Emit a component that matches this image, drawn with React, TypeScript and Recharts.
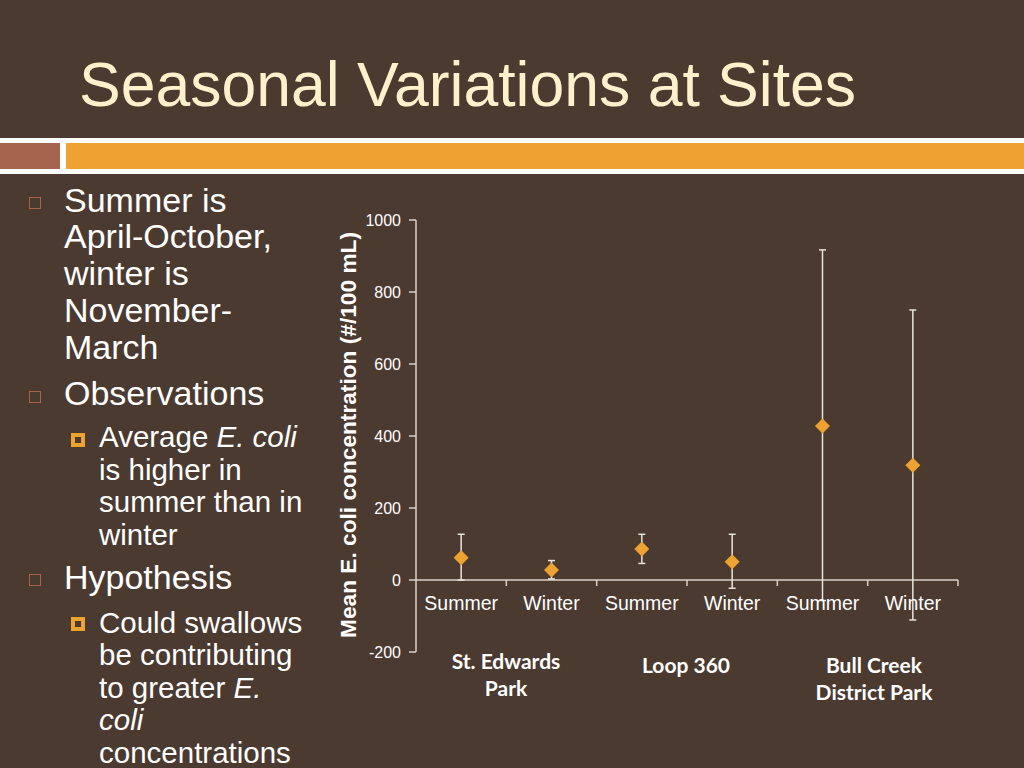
import React from "react";
import {
  ScatterChart,
  Scatter,
  XAxis,
  YAxis,
  ErrorBar,
  ReferenceLine,
} from "recharts";

// Valores
const seasons = ["Summer", "Winter", "Summer", "Winter", "Summer", "Winter"];
const meanValues = [62, 28, 86, 51, 428, 319];
const errLow = [62, 25, 40, 74, 485, 430];
const errHigh = [65, 26, 41, 76, 489, 431];
const yTicks = [-200, 0, 200, 400, 600, 800, 1000];
const xTicks = [0, 1, 2, 3, 4, 5, 6];
const siteLabels = [["St. Edwards", "Park"], ["Loop 360"], ["Bull Creek", "District Park"]];

const BG = "#4B3A30";
const ORANGE = "#EEA232";
const SALMON = "#A6644E";
const AXIS = "#D9D2C9";
const TEXT = "#FFFFFF";
const TITLE = "#FFF1CC";
const FONT = "'Liberation Sans', Arial, sans-serif";

const CHART_W = 700;
const CHART_H = 480;
const MARGIN = { top: 20, right: 42, bottom: 0, left: 56 };
const Y_AXIS_W = 60;
const X_AXIS_H = 28;
const Y_MIN = -200;
const Y_MAX = 1000;
const PLOT_W = CHART_W - MARGIN.left - Y_AXIS_W - MARGIN.right;
const PLOT_H = CHART_H - MARGIN.top - MARGIN.bottom - X_AXIS_H;
// distancia (px) desde el fondo del área hasta la línea del 0
const ZERO_UP = (PLOT_H * (0 - Y_MIN)) / (Y_MAX - Y_MIN);
const BAND = PLOT_W / seasons.length;

const data = seasons.map((s, i) => ({
  x: i + 0.5,
  y: meanValues[i],
  err: [errLow[i], errHigh[i]],
}));

const Diamond = (props: any) => {
  const { cx, cy } = props;
  const r = 7.5;
  return (
    <polygon
      points={`${cx},${cy - r} ${cx + r},${cy} ${cx},${cy + r} ${cx - r},${cy}`}
      fill={ORANGE}
    />
  );
};

// Las etiquetas de estación van pegadas a la línea del 0, no al fondo del área
const SeasonTick = (props: any) => {
  const { x, index } = props;
  const zeroY = MARGIN.top + PLOT_H - ZERO_UP;
  return (
    <g>
      {index > 0 && <line x1={x} x2={x} y1={zeroY} y2={zeroY + 6} stroke={AXIS} strokeWidth={1.5} />}
      {index < seasons.length && (
        <text
          x={x + BAND / 2}
          y={zeroY + 30}
          textAnchor="middle"
          fill={TEXT}
          fontSize={19.5}
          fontFamily={FONT}
        >
          {seasons[index]}
        </text>
      )}
    </g>
  );
};

const Bullet = ({ top, sub }: { top: number; sub?: boolean }) =>
  sub ? (
    <div
      style={{
        position: "absolute",
        left: 71,
        top,
        width: 6,
        height: 6,
        border: `4px solid ${ORANGE}`,
        background: BG,
      }}
    />
  ) : (
    <div
      style={{
        position: "absolute",
        left: 29,
        top,
        width: 10,
        height: 10,
        border: `1.5px solid ${SALMON}`,
      }}
    />
  );

const textBlock = (top: number, left: number, size: number, lh: number, lines: React.ReactNode[]) => (
  <div
    style={{
      position: "absolute",
      left,
      top,
      fontSize: size,
      lineHeight: `${lh}px`,
      color: TEXT,
      whiteSpace: "nowrap",
    }}
  >
    {lines.map((l, i) => (
      <div key={i}>{l}</div>
    ))}
  </div>
);

export default function App() {
  return (
    <div
      style={{
        position: "absolute",
        left: 0,
        top: 0,
        width: 1024,
        height: 768,
        background: BG,
        overflow: "hidden",
        fontFamily: FONT,
      }}
    >
      <div
        style={{
          position: "absolute",
          left: 79,
          top: 52.5,
          fontSize: 62.5,
          color: TITLE,
          lineHeight: "62px",
          whiteSpace: "nowrap",
        }}
      >
        Seasonal Variations at Sites
      </div>
      {/* bandas */}
      <div style={{ position: "absolute", left: 0, top: 138, width: 1024, height: 36, background: "#FFFFFF" }} />
      <div style={{ position: "absolute", left: 0, top: 143, width: 60, height: 26, background: SALMON }} />
      <div style={{ position: "absolute", left: 66, top: 143, width: 958, height: 26, background: ORANGE }} />

      {/* viñetas */}
      <Bullet top={197} />
      {textBlock(181.5, 64, 34, 36.8, ["Summer is", "April-October,", "winter is", "November-", "March"])}
      <Bullet top={391} />
      {textBlock(374.8, 64, 34, 36.8, ["Observations"])}
      <Bullet top={433} sub />
      {textBlock(421.2, 99, 29.5, 32.5, [
        <>Average <i>E. coli</i></>,
        "is higher in",
        "summer than in",
        "winter",
      ])}
      <Bullet top={574} />
      {textBlock(558.5, 64, 34, 36.8, ["Hypothesis"])}
      <Bullet top={617} sub />
      {textBlock(606.5, 99, 29.5, 32.5, [
        "Could swallows",
        "be contributing",
        <>to greater <i>E.</i></>,
        <i>coli</i>,
        "concentrations",
      ])}

      {/* título eje Y */}
      <div
        style={{
          position: "absolute",
          left: 347.5,
          top: 435,
          transform: "translate(-50%, -50%) rotate(-90deg)",
          fontSize: 22.7,
          fontWeight: "bold",
          color: TEXT,
          whiteSpace: "nowrap",
        }}
      >
        Mean E. coli concentration (#/100 mL)
      </div>

      <div style={{ position: "absolute", left: 300, top: 200 }}>
        <ScatterChart width={CHART_W} height={CHART_H} margin={MARGIN}>
          <XAxis
            type="number"
            dataKey="x"
            domain={[0, 6]}
            ticks={xTicks}
            interval={0}
            axisLine={false}
            tickLine={false}
            height={X_AXIS_H}
            tick={<SeasonTick />}
          />
          <YAxis
            type="number"
            dataKey="y"
            domain={[Y_MIN, Y_MAX]}
            ticks={yTicks}
            interval={0}
            width={Y_AXIS_W}
            axisLine={{ stroke: AXIS, strokeWidth: 1.5 }}
            tickLine={{ stroke: AXIS, strokeWidth: 1.5 }}
            tickSize={7}
            tickMargin={8}
            tick={{ fill: TEXT, fontSize: 16, fontFamily: FONT }}
          />
          <ReferenceLine y={0} stroke={AXIS} strokeWidth={1.5} />
          <Scatter data={data} shape={<Diamond />} isAnimationActive={false}>
            <ErrorBar dataKey="err" direction="y" width={3.5} stroke="#E9E3DA" strokeWidth={1.5} />
          </Scatter>
        </ScatterChart>
      </div>

      {/* nombres de sitios */}
      {siteLabels.map((lines, i) => (
        <div
          key={i}
          style={{
            position: "absolute",
            left: [506, 686, 874][i],
            top: [647, 651, 651][i],
            transform: "translateX(-50%)",
            textAlign: "center",
            fontFamily: "Lato, 'Open Sans', sans-serif",
            fontWeight: "bold",
            fontSize: 21,
            lineHeight: "27px",
            color: TEXT,
            whiteSpace: "nowrap",
          }}
        >
          {lines.map((l) => (
            <div key={l}>{l}</div>
          ))}
        </div>
      ))}
    </div>
  );
}
